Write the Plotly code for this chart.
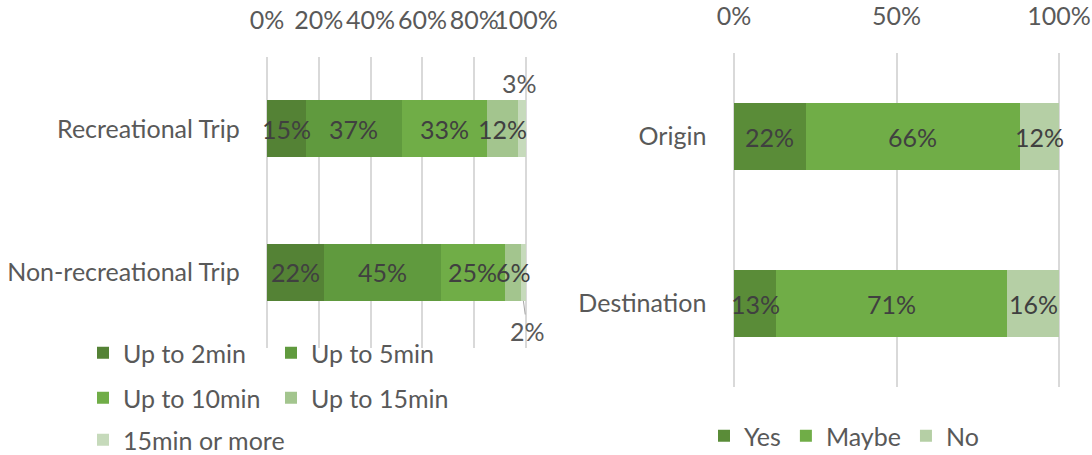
import plotly.graph_objects as go

# ---- left chart: acceptable waiting time by trip type ----
trip_types = ["Non-recreational Trip", "Recreational Trip"]
wait_bands = ["Up to 2min", "Up to 5min", "Up to 10min", "Up to 15min", "15min or more"]
recreational = [15, 37, 33, 12, 3]
non_recreational = [22, 45, 25, 6, 2]
wait_colors = ["#548235", "#609A3E", "#70AD47", "#A3C58E", "#C6DABB"]
wait_ticks = [0, 20, 40, 60, 80, 100]

# ---- right chart: willingness by trip end ----
trip_ends = ["Destination", "Origin"]
answers = ["Yes", "Maybe", "No"]
origin = [22, 66, 12]
destination = [13, 71, 16]
answer_colors = ["#5A8C38", "#70AD47", "#B5CFA5"]
answer_ticks = [0, 50, 100]

W, H = 1092, 455
FONT = "Lato"
AXIS_GREY = "#595959"
LABEL_GREY = "#404040"
FS = 25
PAD = 0.5  # small range padding so the 0% and 100% gridlines stay visible

fig = go.Figure()

left_rows = ["legend", "legend2", "legend3"]
for i, band in enumerate(wait_bands):
    fig.add_trace(go.Bar(
        name=band, orientation="h",
        x=[non_recreational[i], recreational[i]], y=trip_types,
        marker=dict(color=wait_colors[i], line=dict(width=0)),
        xaxis="x", yaxis="y", legend=left_rows[i // 2],
        hoverinfo="skip",
    ))

for i, ans in enumerate(answers):
    fig.add_trace(go.Bar(
        name=ans, orientation="h",
        x=[destination[i], origin[i]], y=trip_ends,
        marker=dict(color=answer_colors[i], line=dict(width=0)),
        xaxis="x2", yaxis="y2", legend="legend4",
        hoverinfo="skip",
    ))

# data labels, centred on each stacked segment
annotations = []

def add_labels(rows, xref, yref):
    for idx, vals in rows:
        start = 0
        for v in vals:
            centre = start + v / 2
            start += v
            if v >= 5:
                annotations.append(dict(
                    x=centre, y=idx, xref=xref, yref=yref, text=f"{v}%",
                    showarrow=False, font=dict(family=FONT, size=FS, color=LABEL_GREY)))
            elif idx == 1:
                annotations.append(dict(
                    x=centre, y=idx + 0.2, xref=xref, yref=yref, text=f"{v}%",
                    showarrow=False, yanchor="bottom", xshift=-3,
                    font=dict(family=FONT, size=FS, color=AXIS_GREY)))
            else:
                annotations.append(dict(
                    x=centre, y=idx - 0.2, xref=xref, yref=yref, text=f"{v}%",
                    showarrow=True, arrowhead=0, arrowwidth=1, arrowcolor="#A6A6A6",
                    ax=4, ay=30, font=dict(family=FONT, size=FS, color=AXIS_GREY)))

add_labels([(0, non_recreational), (1, recreational)], "x", "y")
add_labels([(0, destination), (1, origin)], "x2", "y2")

axis_font = dict(family=FONT, size=FS, color=AXIS_GREY)
x_common = dict(side="top", showgrid=True, gridcolor="#D9D9D9", gridwidth=1.5,
                zeroline=False, showline=False, ticks="", tickangle=0,
                range=[-PAD, 100 + PAD], tickfont=axis_font, fixedrange=True,
                ticklabelstandoff=22)
y_common = dict(type="category", showgrid=False, zeroline=False, showline=False,
                ticks="", tickfont=axis_font, fixedrange=True, categoryorder="array",
                ticklabelstandoff=25)

legend_common = dict(orientation="h", xanchor="left", yanchor="middle",
                     bgcolor="rgba(0,0,0,0)", traceorder="normal",
                     font=dict(family=FONT, size=FS, color=AXIS_GREY))


def domain(px0, px100):
    per = (px100 - px0) / 100
    return [(px0 - PAD * per) / W, (px100 + PAD * per) / W]


fig.update_layout(
    width=W, height=H,
    margin=dict(l=0, r=0, t=0, b=0, autoexpand=False),
    paper_bgcolor="white", plot_bgcolor="white",
    barmode="stack", bargap=0.6,
    font=dict(family=FONT, size=FS, color=AXIS_GREY),
    xaxis=dict(domain=domain(267, 526), tickvals=wait_ticks,
               ticktext=[f"{t}%" for t in wait_ticks], anchor="y", **x_common),
    yaxis=dict(domain=[1 - 348 / H, 1 - 57 / H], categoryarray=trip_types,
               anchor="x", **y_common),
    xaxis2=dict(domain=domain(734, 1059), tickvals=answer_ticks,
                ticktext=[f"{t}%" for t in answer_ticks], anchor="y2", **x_common),
    yaxis2=dict(domain=[1 - 387 / H, 1 - 53 / H], categoryarray=trip_ends,
                anchor="x2", **y_common),
    legend=dict(x=83 / W, y=1 - 353 / H, entrywidth=143, **legend_common),
    legend2=dict(x=83 / W, y=1 - 398 / H, entrywidth=143, **legend_common),
    legend3=dict(x=83 / W, y=1 - 440 / H, entrywidth=230, **legend_common),
    legend4=dict(x=704 / W, y=1 - 436 / H, **legend_common),
    annotations=annotations,
)

fig.write_html("out.html")
